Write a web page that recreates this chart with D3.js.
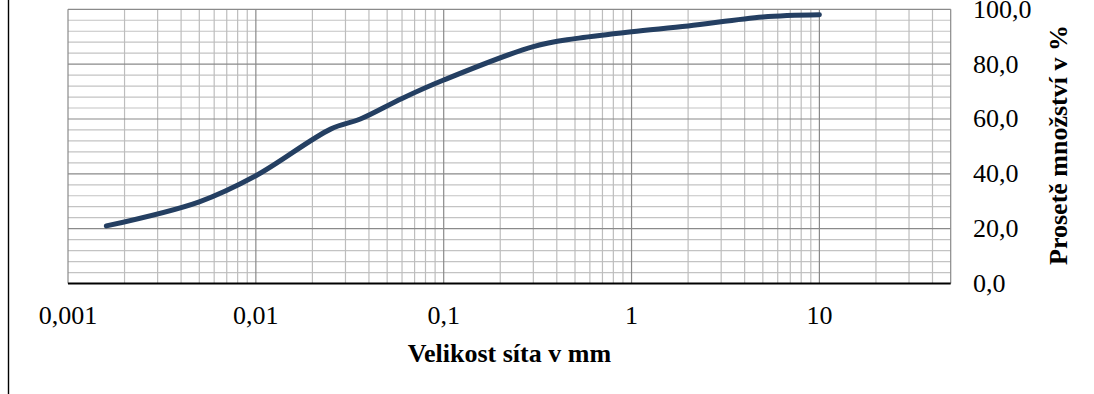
<!DOCTYPE html>
<html>
<head>
<meta charset="utf-8">
<script src="https://cdn.jsdelivr.net/npm/d3@7/dist/d3.min.js"></script>
<style>
  html, body { margin: 0; padding: 0; background: #fff; }
  svg { display: block; }
  text { font-family: "Liberation Serif", "Times New Roman", serif; fill: #000; }
</style>
</head>
<body>
<svg id="chart" width="1094" height="394"></svg>
<script>
// ---- data ----
const sieveSizes = [0.0016, 0.005, 0.01, 0.025, 0.036, 0.06, 0.1, 0.3, 0.5, 1, 2, 5, 10];
const passing    = [21, 29.8, 39.3, 56.3, 60.0, 67.5, 74.2, 86.4, 89.3, 91.8, 93.9, 97.2, 98.0];
const xTickValues = [0.001, 0.01, 0.1, 1, 10];
const xTickLabels = ["0,001", "0,01", "0,1", "1", "10"];
const yTickValues = [0, 20, 40, 60, 80, 100];
const yTickLabels = ["0,0", "20,0", "40,0", "60,0", "80,0", "100,0"];
const xTitle = "Velikost síta v mm";
const yTitle = "Prosetě množství v %";

// ---- layout ----
const svg = d3.select("#chart");
const L = 68, R = 950.7, T = 9.3, B = 283.5;
const x = d3.scaleLog().domain([0.001, 50]).range([L, R]);
const y = d3.scaleLinear().domain([0, 100]).range([B, T]);

// left chart-area border
svg.append("line").attr("x1", 8.5).attr("x2", 8.5).attr("y1", 0).attr("y2", 394)
  .attr("stroke", "#000").attr("stroke-width", 1.4);

const grid = svg.append("g");
const minorX = [];
for (let k = -3; k <= 1; k++) {
  for (let m = 2; m <= 9; m++) {
    const v = m * Math.pow(10, k);
    if (v < 50) minorX.push(v);
  }
}
const minorY = d3.range(4, 100, 4).filter(v => v % 20 !== 0);
grid.selectAll(".hy").data(minorY).join("line")
  .attr("x1", L).attr("x2", R).attr("y1", d => y(d)).attr("y2", d => y(d))
  .attr("stroke", "#c3c3c3").attr("stroke-width", 1.2);
grid.selectAll(".vx").data(minorX).join("line")
  .attr("x1", d => x(d)).attr("x2", d => x(d)).attr("y1", T).attr("y2", B)
  .attr("stroke", "#bdbdbd").attr("stroke-width", 1.2);
grid.selectAll(".my").data(yTickValues.filter(v => v > 0)).join("line")
  .attr("x1", L).attr("x2", R).attr("y1", d => y(d)).attr("y2", d => y(d))
  .attr("stroke", "#8a8a8a").attr("stroke-width", 1.2);
grid.selectAll(".mx").data(xTickValues).join("line")
  .attr("x1", d => x(d)).attr("x2", d => x(d)).attr("y1", T).attr("y2", B)
  .attr("stroke", "#8a8a8a").attr("stroke-width", 1.2);
grid.append("line").attr("x1", R).attr("x2", R).attr("y1", T).attr("y2", B)
  .attr("stroke", "#8a8a8a").attr("stroke-width", 1.2);

// x axis line
svg.append("line").attr("x1", L).attr("x2", R).attr("y1", B).attr("y2", B)
  .attr("stroke", "#000").attr("stroke-width", 2);

// x tick labels
svg.selectAll(".xt").data(xTickValues).join("text")
  .attr("x", d => x(d)).attr("y", 324)
  .attr("text-anchor", "middle").attr("font-size", 26)
  .text((d, i) => xTickLabels[i]);

// y tick labels (right side)
svg.selectAll(".yt").data(yTickValues).join("text")
  .attr("x", 973).attr("y", d => y(d) + 8.5)
  .attr("text-anchor", "start").attr("font-size", 26)
  .text((d, i) => yTickLabels[i]);

// axis titles
svg.append("text").attr("x", (L + R) / 2).attr("y", 361.5)
  .attr("text-anchor", "middle").attr("font-size", 26).attr("font-weight", "bold")
  .text(xTitle);
svg.append("text")
  .attr("transform", "translate(1067,145) rotate(-90)")
  .attr("text-anchor", "middle").attr("font-size", 26).attr("font-weight", "bold")
  .text(yTitle);

// curve
const pts = sieveSizes.map((s, i) => [s, passing[i]]);
const line = d3.line().x(d => x(d[0])).y(d => y(d[1])).curve(d3.curveCatmullRom.alpha(0.5));
svg.append("path").attr("d", line(pts))
  .attr("fill", "none").attr("stroke", "#243f62").attr("stroke-width", 5)
  .attr("stroke-linecap", "round").attr("stroke-linejoin", "round");
</script>
</body>
</html>
